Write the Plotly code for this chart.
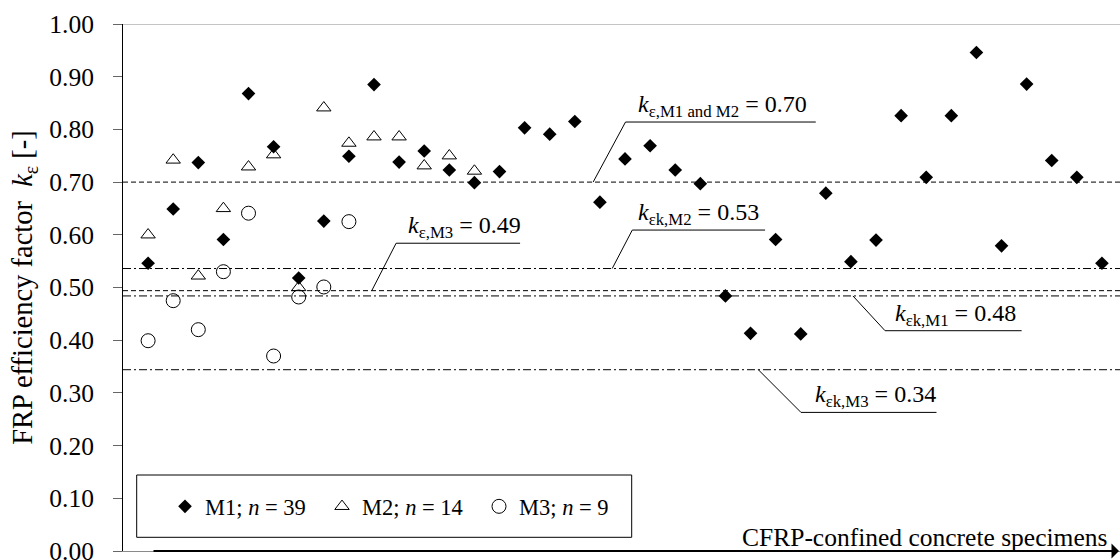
import plotly.graph_objects as go

# ---------------- data ----------------
m1_values = [0.546, 0.649, 0.737, 0.591, 0.868, 0.767, 0.518, 0.626, 0.749, 0.885,
             0.738, 0.759, 0.723, 0.699, 0.720, 0.803, 0.791, 0.815, 0.662, 0.744,
             0.769, 0.723, 0.697, 0.484, 0.413, 0.591, 0.412, 0.679, 0.549, 0.590,
             0.826, 0.709, 0.826, 0.946, 0.579, 0.886, 0.741, 0.709, 0.546]
m2_values = [0.600, 0.742, 0.522, 0.650, 0.729, 0.752, 0.500, 0.841, 0.774, 0.786,
             0.786, 0.731, 0.750, 0.721]
m3_values = [0.399, 0.475, 0.420, 0.530, 0.641, 0.370, 0.482, 0.501, 0.625]

m1_specimens = list(range(1, len(m1_values) + 1))
m2_specimens = list(range(1, len(m2_values) + 1))
m3_specimens = list(range(1, len(m3_values) + 1))

series_names = ["M1; <i>n</i> = 39", "M2; <i>n</i> = 14", "M3; <i>n</i> = 9"]

# reference levels (mean and characteristic values)
ref_levels = [0.700, 0.494, 0.536, 0.484, 0.344]
ref_labels = ["<i>k</i><sub>ε,M1 and M2</sub> = 0.70",
              "<i>k</i><sub>ε,M3</sub> = 0.49",
              "<i>k</i><sub>εk,M2</sub> = 0.53",
              "<i>k</i><sub>εk,M1</sub> = 0.48",
              "<i>k</i><sub>εk,M3</sub> = 0.34"]
ref_kinds = ["mean", "mean", "char", "char", "char"]

y_ticks = [0.0, 0.1, 0.2, 0.3, 0.4, 0.5, 0.6, 0.7, 0.8, 0.9, 1.0]
y_title = "FRP efficiency factor\u00a0\u00a0<i>k</i><sub>ε</sub> [-]"
x_title = "CFRP-confined concrete specimens"

# ---------------- figure ----------------
FONT = "Liberation Serif"
X_MAX = 39.72

fig = go.Figure()
fig.add_trace(go.Scatter(x=m1_specimens, y=m1_values, mode="markers", name=series_names[0],
                         marker=dict(symbol="diamond", size=10.5, color="black",
                                     line=dict(width=0))))
fig.add_trace(go.Scatter(x=m2_specimens, y=m2_values, mode="markers", name=series_names[1],
                         marker=dict(symbol="triangle-up-open", size=12.5, color="black",
                                     line=dict(width=1, color="black"))))
fig.add_trace(go.Scatter(x=m3_specimens, y=m3_values, mode="markers", name=series_names[2],
                         marker=dict(symbol="circle-open", size=14, color="black",
                                     line=dict(width=1, color="black"))))

shapes = []
# top border line at 1.00
shapes.append(dict(type="line", xref="paper", yref="y", x0=0, x1=1, y0=1, y1=1,
                   line=dict(color="#8a8a8a", width=1)))
# reference level lines
for lvl, kind in zip(ref_levels, ref_kinds):
    dash = "5px,3px" if kind == "mean" else "8px,3px,2px,3px"
    shapes.append(dict(type="line", xref="paper", yref="y", x0=0, x1=1, y0=lvl, y1=lvl,
                       line=dict(color="black", width=1, dash=dash)))

# leader lines: (start x on level, elbow x, elbow y, end x) in axis units
leaders = [
    (18.73, 20.02, 0.814, 27.60),   # 0.70
    (9.91, 10.88, 0.584, 15.82),    # 0.49
    (19.49, 20.29, 0.609, 25.58),   # 0.53
    (29.08, 30.36, 0.418, 35.80),   # 0.48
    (25.31, 27.01, 0.263, 32.41),   # 0.34
]
text_x = [20.45, 11.27, 20.45, 30.66, 27.47]
annotations = []
for lvl, lab, (xs, xe, ye, xend), tx in zip(ref_levels, ref_labels, leaders, text_x):
    shapes.append(dict(type="path", xref="x", yref="y",
                       path=f"M {xs},{lvl} L {xe},{ye} L {xend},{ye}",
                       line=dict(color="black", width=1)))
    annotations.append(dict(x=tx, y=ye, xref="x", yref="y", text=lab, showarrow=False,
                            xanchor="left", yanchor="bottom", yshift=-1,
                            font=dict(family=FONT, size=24, color="black")))

# legend frame
shapes.append(dict(type="rect", xref="paper", yref="paper",
                   x0=(136.7 - 123) / 997, x1=(631.7 - 123) / 997,
                   y0=(551 - 537.3) / 527, y1=(551 - 475) / 527,
                   line=dict(color="black", width=1), fillcolor="rgba(0,0,0,0)"))

# x axis arrow and label
annotations.append(dict(x=1, y=0, xref="paper", yref="y", ax=-968, ay=0,
                        axref="pixel", ayref="pixel", text="", showarrow=True,
                        arrowhead=1, arrowsize=1.25, arrowwidth=2, arrowcolor="black"))
annotations.append(dict(x=1, y=0, xref="paper", yref="y", text=x_title, showarrow=False,
                        xanchor="right", yanchor="bottom", xshift=-11, yshift=-3,
                        font=dict(family=FONT, size=25.5, color="black")))

fig.update_layout(
    width=1120, height=560,
    margin=dict(l=123, r=0, t=24, b=9, pad=0, autoexpand=False),
    paper_bgcolor="white", plot_bgcolor="white",
    font=dict(family=FONT, size=24, color="black"),
    shapes=shapes, annotations=annotations,
    showlegend=True,
    legend=dict(orientation="h", x=(165 - 123) / 997, xanchor="left",
                y=(551 - 506.7) / 527, yanchor="middle",
                bgcolor="rgba(0,0,0,0)", borderwidth=0,
                entrywidth=112, entrywidthmode="pixels",
                font=dict(family=FONT, size=22.5, color="black")),
    xaxis=dict(range=[0, X_MAX], showticklabels=False, ticks="", showgrid=False,
               zeroline=False, showline=True, linecolor="#8a8a8a", linewidth=1,
               automargin=False),
    yaxis=dict(range=[0, 1], tickvals=y_ticks, tickformat=".2f", ticks="outside",
               ticklen=9, tickcolor="#666666", tickwidth=1, ticklabelstandoff=14,
               ticklabeloverflow="allow", automargin=False,
               showline=True, linecolor="black", linewidth=1, showgrid=False,
               zeroline=False, tickfont=dict(family=FONT, size=25.5, color="black"),
               title=dict(text=y_title, standoff=8,
                          font=dict(family=FONT, size=28.5, color="black"))),
)

fig.write_html("out.html")
